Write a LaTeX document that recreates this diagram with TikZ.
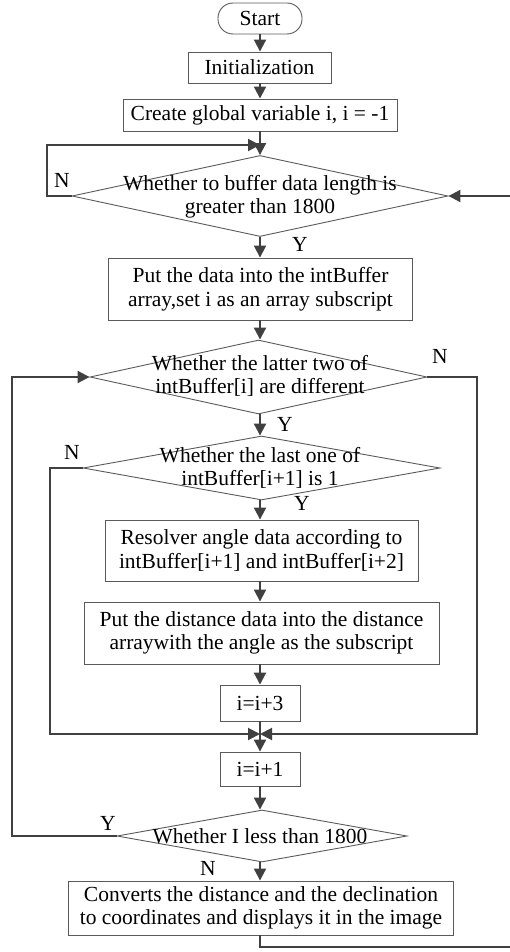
\documentclass[tikz,border=0pt]{standalone}
\usepackage{fontspec}
\setmainfont{Liberation Serif}
\usetikzlibrary{arrows.meta,shapes.geometric}
\definecolor{linec}{HTML}{404040}
\definecolor{boxc}{HTML}{5A5A5A}
\tikzset{
  box/.style={draw=boxc, line width=0.9pt, inner sep=0pt, align=center, font=\fs},
  term/.style={box, rounded corners=15pt},
  dia/.style={draw=boxc, line width=0.9pt, diamond, inner sep=0pt},
  dtext/.style={align=center, font=\fs, inner sep=0pt},
  lab/.style={font=\fs, inner sep=0pt},
  arr/.style={draw=linec, line width=2pt, -{Triangle[length=12pt,width=12pt]}},
  ln/.style={draw=linec, line width=2pt},
}
\newcommand{\fs}{\fontsize{21.5pt}{23.5pt}\selectfont}
\begin{document}
\begin{tikzpicture}[x=1pt,y=-1pt]
\useasboundingbox (0,0) rectangle (510,952);
\clip (0,0) rectangle (510,952);
% nodes
\node[term, minimum width=84pt, minimum height=31pt] (start) at (260,18.5) {Start};
\node[box, minimum width=143pt, minimum height=31pt] (init) at (259.5,67.5) {Initialization};
\node[box, minimum width=274pt, minimum height=32pt] (create) at (260,115) {Create global variable i, i = -1};
\node[dia, minimum width=376pt, minimum height=81pt] (d1) at (260,196) {};
\node[dtext] (d1t) at (260,197) {Whether to buffer data length is\\greater than 1800};
\node[box, minimum width=304pt, minimum height=62pt] (put) at (260.5,289) {Put the data into the intBuffer\\array,set i as an array subscript};
\node[dia, minimum width=337pt, minimum height=74pt] (d2) at (258.5,377) {};
\node[dtext] (d2t) at (260,376) {Whether the latter two of\\intBuffer[i] are different};
\node[dia, minimum width=357pt, minimum height=64pt] (d3) at (261.5,468) {};
\node[dtext] (d3t) at (260,468) {Whether the last one of\\intBuffer[i+1] is 1};
\node[box, minimum width=313pt, minimum height=61pt] (res) at (261.5,550.5) {Resolver angle data according to\\intBuffer[i+1] and intBuffer[i+2]};
\node[box, minimum width=355pt, minimum height=62pt] (dist) at (261.5,633) {Put the distance data into the distance\\arraywith the angle as the subscript};
\node[box, minimum width=80pt, minimum height=36pt] (i3) at (260,703) {i=i+3};
\node[box, minimum width=80pt, minimum height=34pt] (i1) at (260,769) {i=i+1};
\node[dia, minimum width=290pt, minimum height=52pt] (d4) at (262,836) {};
\node[dtext] (d4t) at (260,836) {Whether I less than 1800};
\node[box, minimum width=385pt, minimum height=54pt] (conv) at (261,908) {Converts the distance and the declination\\to coordinates and displays it in the image};
% labels
\node[lab] (n1) at (62,180) {N};
\node[lab] (y1) at (300,244) {Y};
\node[lab] (n2) at (440,356) {N};
\node[lab] (y2) at (285,424) {Y};
\node[lab] (n3) at (72,452) {N};
\node[lab] (y3) at (302,503) {Y};
\node[lab] (y4) at (108,823) {Y};
\node[lab] (n4) at (208,868) {N};
% helper coordinates
\coordinate (m) at (260,734);
\coordinate (l1) at (47,145);
\coordinate (lx) at (12,377);
\coordinate (r2) at (477,377);
\coordinate (l3) at (50,468);
\coordinate (b) at (260,947);
\coordinate (rr) at (513,947);
% main arrows
\draw[arr] (start.south) -- (start.south |- init.north);
\draw[arr] (init.south -| start.south) -- (start.south |- create.north);
\draw[arr] (create.south) -- (create.south |- d1.north);
\draw[arr] (d1.south -| create.south) -- (create.south |- put.north);
\draw[arr] (put.south -| create.south) -- (create.south |- d2.north);
\draw[arr] (d2.south -| create.south) -- (create.south |- d3.north);
\draw[arr] (d3.south -| create.south) -- (create.south |- res.north);
\draw[arr] (res.south -| create.south) -- (create.south |- dist.north);
\draw[arr] (dist.south -| create.south) -- (create.south |- i3.north);
\draw[arr] (i3.south) -- (i1.north);
\draw[arr] (i1.south) -- (i1.south |- d4.north);
\draw[arr] (d4.south -| i1.south) -- (i1.south |- conv.north);
% loops
\draw[arr] (d1.west) -| (l1) -- (l1 -| create.south);
\draw[arr] (d4.west) -| (lx) -- (d2.west);
\draw[arr] (d2.east) -- (r2) |- (m);
\draw[arr] (d3.west) -- (l3) |- (m);
\draw[arr] (conv.south -| b) -- (b) -- (rr) |- (d1.east);
\end{tikzpicture}
\end{document}
